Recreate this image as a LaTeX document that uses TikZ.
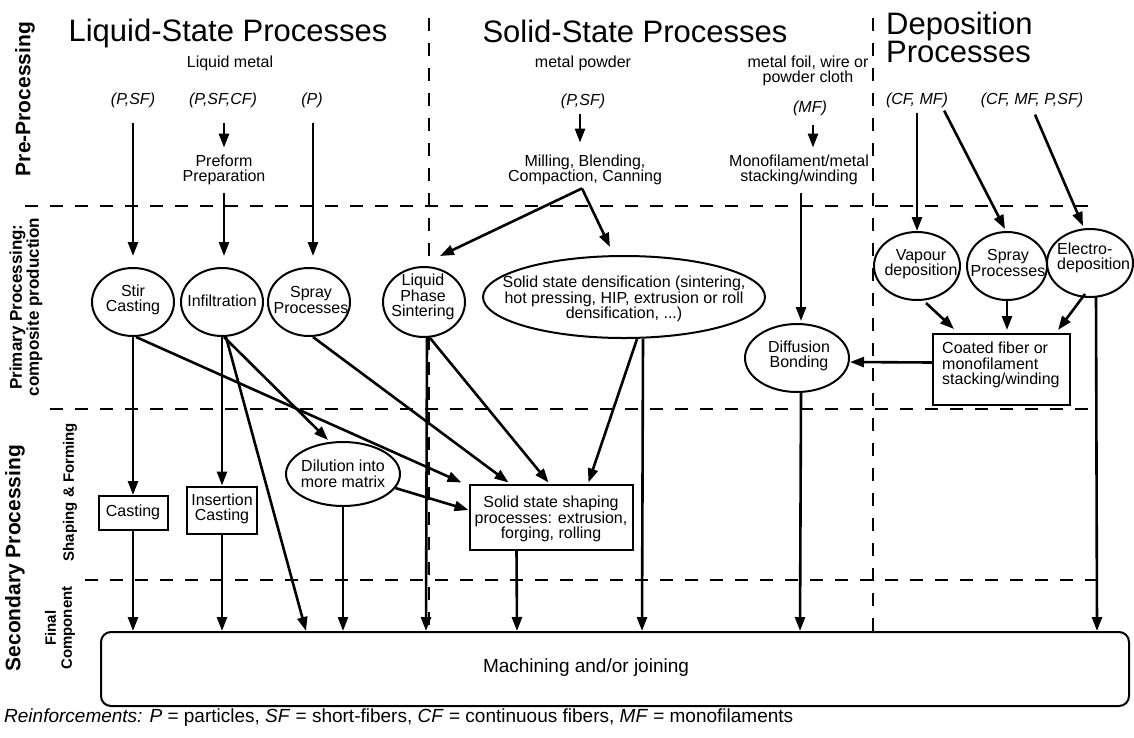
\documentclass[tikz,border=0pt]{standalone}
\usepackage{fontspec}
\setmainfont{Liberation Sans}
\usetikzlibrary{arrows.meta,shapes.geometric,calc}
\newcommand{\mtfont}{\fontsize{16}{15.5}\selectfont}
\newcommand{\ttlfont}{\fontsize{31}{28}\selectfont}
\newcommand{\bigfont}{\fontsize{19}{19}\selectfont}
\tikzset{
  arr/.style={draw, line width=2.6pt, -{Triangle[length=14pt,width=10pt]}},
  dsh/.style={draw, line width=1.9pt, dash pattern=on 13pt off 12pt},
  ell/.style={draw, ellipse, line width=2pt, inner sep=0pt},
  bx/.style={draw, rectangle, line width=2pt, inner sep=0pt},
  mt/.style={font=\mtfont, align=center, inner sep=0pt},
  it/.style={font=\mtfont\itshape, inner sep=0pt},
  tt/.style={font=\ttlfont, inner sep=0pt},
  labA/.style={font=\fontsize{21}{21}\selectfont\bfseries, inner sep=0pt, rotate=90, align=center},
  labB/.style={font=\fontsize{17}{17}\selectfont\bfseries, inner sep=0pt, rotate=90, align=center},
  labC/.style={font=\fontsize{15}{16}\selectfont\bfseries, inner sep=0pt, rotate=90, align=center}
}
\begin{document}
\begin{tikzpicture}[x=1pt,y=-1pt]
\useasboundingbox (0,0) rectangle (1134,737);

% dividers
\draw[dsh] (25,206) -- (1098,206);
\draw[dsh] (50,409) -- (1097,409);
\draw[dsh] (85,580) -- (1096,580);
\draw[dsh] (429,18) -- (429,267);
\draw[dsh] (429,337) -- (429,632);
\draw[dsh] (873,18) -- (873,632);

% side labels
\node[labA] (preL) at (25,99) {Pre-Processing};
\node[labB] (priL) at (26,307) {Primary Processing:\\composite production};
\node[labA] (secL) at (15,558) {Secondary Processing};
\node[labC] (shfL) at (70,492) {Shaping \& Forming};
\node[labC] (finL) at (60,628) {Final\\Component};

% titles
\node[tt] (liqT) at (228,33) {Liquid-State Processes};
\node[tt] (solT) at (635,31) {Solid-State Processes};
\node[tt, align=left, anchor=west] (depT) at (886,37) {Deposition\\Processes};

% liquid column
\node[mt] (liqm) at (230,63) {Liquid metal};
\node[it] (in1) at (133,100) {(P,SF)};
\node[it] (in2) at (223,100) {(P,SF,CF)};
\node[it] (in3) at (312,100) {(P)};
\node[mt] (pref) at (224,170) {Preform\\Preparation};

\node[ell, minimum width=82pt, minimum height=68pt] (stir) at (133,302) {};
\node[mt] (stirT) at (133,300) {Stir\\Casting};
\node[ell, minimum width=82pt, minimum height=68pt] (infl) at (222,302) {};
\node[mt] (inflT) at (222,301) {Infiltration};
\node[ell, minimum width=82pt, minimum height=68pt] (sprL) at (309,302) {};
\node[mt] (sprLT) at (311,300) {Spray\\Processes};
\node[ell, minimum width=82pt, minimum height=70pt] (lps) at (424,302) {};
\node[mt] (lpsT) at (423,297) {Liquid\\Phase\\Sintering};

\node[bx, minimum width=69pt, minimum height=34pt] (cast) at (133,513) {};
\node[mt] (castT) at (133,512) {Casting};
\node[bx, minimum width=70pt, minimum height=47pt] (ins) at (222,510) {};
\node[mt] (insT) at (222,509) {Insertion\\Casting};
\node[ell, minimum width=114pt, minimum height=64pt] (dil) at (343,474) {};
\node[mt] (dilT) at (343,474) {Dilution into\\more matrix};

% solid column
\node[mt] (powd) at (583,63) {metal powder};
\node[it] (ps) at (583,101) {(P,SF)};
\node[mt] (mill) at (585,170) {Milling, Blending,\\Compaction, Canning};
\node[mt] (foil) at (808,71) {metal foil, wire or\\powder cloth};
\node[it] (mfT) at (810,108) {(MF)};
\node[mt] (mono) at (799,170) {Monofilament/metal\\stacking/winding};

\node[ell, minimum width=282pt, minimum height=82pt] (ssd) at (624,297) {};
\node[mt] (ssdT) at (624,299) {Solid state densification (sintering,\\hot pressing, HIP, extrusion or roll\\densification, ...)};
\node[ell, minimum width=104pt, minimum height=68pt] (diff) at (797,358) {};
\node[mt] (diffT) at (799,356) {Diffusion\\Bonding};
\node[bx, minimum width=163pt, minimum height=65pt] (shape) at (551,517) {};
\node[mt] (shapeT) at (551,519) {Solid state shaping\\processes: extrusion,\\forging, rolling};

% deposition column
\node[it] (cfmf) at (917,100) {(CF, MF)};
\node[it] (cfall) at (1032,100) {(CF, MF, P,SF)};
\node[ell, minimum width=86pt, minimum height=68pt] (vap) at (917,266) {};
\node[mt] (vapT) at (921,264) {Vapour\\deposition};
\node[ell, minimum width=80pt, minimum height=68pt] (sprD) at (1007,266) {};
\node[mt] (sprDT) at (1008,263) {Spray\\Processes};
\node[ell, minimum width=86pt, minimum height=68pt] (elec) at (1090,263) {};
\node[mt, align=left, anchor=west] (elecT) at (1057,258) {Electro-\\deposition};
\node[bx, minimum width=137pt, minimum height=71pt] (coat) at (1001.5,369.5) {};
\node[mt, align=left, anchor=west] (coatT) at (942,365) {Coated fiber or\\monofilament\\stacking/winding};

% final
\node[draw, rounded corners=10pt, line width=2pt, minimum width=1028pt, minimum height=74pt, inner sep=0pt] (mach) at (615,669) {};
\node[font=\bigfont, inner sep=0pt] (machT) at (586,668) {Machining and/or joining};
\node[font=\bigfont, inner sep=0pt, anchor=west] (foot) at (4,718) {\textit{Reinforcements: P} = particles, \textit{SF} = short-fibers, \textit{CF} = continuous fibers, \textit{MF} = monofilaments};

% liquid connectors
\draw[arr] ($(in1.south)+(0,15)$) -- ($(stir.north)+(0,-11)$);
\draw[arr] ($(in2.south)+(1,15)$) -- ($(pref.north)+(0,-7)$);
\draw[arr] ($(pref.south)+(0,8)$) -- ($(infl.north)+(2,-11)$);
\draw[arr] ($(in3.south)+(1,15)$) -- ($(sprL.north)+(4,-11)$);

\draw[arr] (stir.south) -- (cast.north);
\draw[arr] ($(stir.south)+(3,0)$) -- ($(shape.north west)+(-7,-1)$);
\draw[arr] (infl.south) -- (ins.north);
\draw[arr] ($(infl.south)+(2,0)$) -- ($(dil.north)+(-15,-1)$);
\draw[arr] ($(infl.south)+(4,0)$) -- ($(mach.north west)+(206,0)$);
\draw[arr] ($(sprL.south)+(4,0)$) -- ($(shape.north west)+(40,-1)$);
\draw[arr] ($(lps.south)+(6,0)$) -- ($(shape.north west)+(80,-1)$);
\draw[arr] ($(lps.south)+(3,0)$) -- ($(mach.north west)+(326,0)$);
\draw[arr] (dil.-15) -- ($(shape.west)+(0,-7)$);
\draw[arr] (dil.south) -- (dil.south |- mach.north);
\draw[arr] (cast.south) -- (cast.south |- mach.north);
\draw[arr] (ins.south) -- (ins.south |- mach.north);

% solid connectors
\draw[arr] ($(ps.south)+(-3,5)$) -- ($(mill.north)+(-5,-12)$);
\draw[arr] ($(mill.south)+(-3,3)$) -- ($(lps.north)+(16,-10)$);
\draw[arr] ($(mill.south)+(-3,3)$) -- ($(ssd.north)+(-14,-8)$);
\draw[arr] ($(ssd.south)+(13,0)$) -- ($(shape.north west)+(120,-1)$);
\draw[arr] ($(ssd.south)+(19,0)$) -- ($(mach.north west)+(542,0)$);
\draw[arr] ($(shape.south west)+(48,0)$) -- ($(mach.north west)+(417,0)$);
\draw[arr] ($(mfT.south)+(3,9)$) -- ($(mono.north)+(14,-7)$);
\draw[arr] ($(mono.south)+(2,8)$) -- ($(diff.north)+(4,-2)$);
\draw[arr] ($(diff.south)+(4,0)$) -- ($(mach.north west)+(700,0)$);

% deposition connectors
\draw[arr] ($(cfmf.south)+(0,5)$) -- (vap.north);
\draw[arr] ($(cfmf.south east)+(-4,3)$) -- ($(sprD.north)+(-2,-2)$);
\draw[arr] ($(cfall.south)+(3,7)$) -- ($(elec.north)+(-7,-2)$);
\draw[arr] ($(vap.south)+(9,2)$) -- ($(coat.north west)+(22,-4)$);
\draw[arr] (sprD.south) -- ($(sprD.south |- coat.north)+(0,-3)$);
\draw[arr] ($(elec.south)+(-5,-4)$) -- ($(coat.north east)+(-13,-3)$);
\draw[arr] ($(coat.west)+(0,-7)$) -- ($(diff.east)+(0,4)$);
\draw[arr] ($(elec.south)+(6,-1)$) -- ($(mach.north east)+(-33,0)$);
\end{tikzpicture}
\end{document}
